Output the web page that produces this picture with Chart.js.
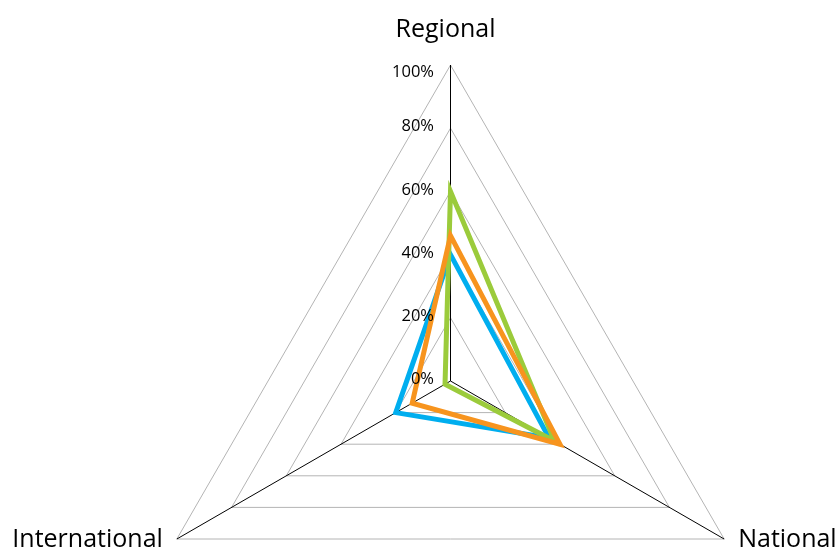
<!DOCTYPE html>
<html><head><meta charset="utf-8">
<script src="https://cdn.jsdelivr.net/npm/chart.js@4/dist/chart.umd.min.js"></script>
<style>html,body{margin:0;padding:0;background:#fff;overflow:hidden}#wrap{width:840px;height:554px}</style>
</head><body><div id="wrap"><canvas id="c" width="840" height="554"></canvas></div>
<script>
const categories = ['Regional', 'National', 'International'];
const seriesBlue = [40, 36, 20];
const seriesGreen = [60, 38, 2];
const seriesOrange = [46, 40, 14];
const tickValues = [0, 20, 40, 60, 80, 100];
const tickLabels = ['0%', '20%', '40%', '60%', '80%', '100%'];

const labelPlugin = {
  id: 'customLabels',
  afterDatasetsDraw(chart) {
    const s = chart.scales.r;
    const ctx = chart.ctx;
    ctx.save();
    ctx.fillStyle = '#000';
    ctx.font = '16.5px "Open Sans"';
    ctx.textAlign = 'right';
    ctx.textBaseline = 'middle';
    const top = s.yCenter - s.drawingArea + 7;
    s.ticks.forEach((t) => {
      const y = Math.max(s.yCenter - s.getDistanceFromCenterForValue(t.value) - 1.5, top);
      ctx.fillText(tickLabels[tickValues.indexOf(t.value)], s.xCenter - 16.5, y);
    });
    ctx.font = '25px "Open Sans"';
    ctx.textBaseline = 'alphabetic';
    const outer = s.getDistanceFromCenterForValue(s.max);
    categories.forEach((c, i) => {
      const p = s.getPointPosition(i, outer);
      if (i === 0) {
        ctx.textAlign = 'center';
        ctx.fillText(c, p.x - 5, p.y - 28);
      } else if (p.x > s.xCenter) {
        ctx.textAlign = 'left';
        ctx.fillText(c, p.x + 14, p.y + 8);
      } else {
        ctx.textAlign = 'right';
        ctx.fillText(c, p.x - 14, p.y + 8);
      }
    });
    ctx.restore();
  }
};

const mk = (data, color, order) => ({
  data, borderColor: color, backgroundColor: 'transparent', fill: false,
  borderWidth: 5, pointRadius: 0, pointHoverRadius: 0,
  borderJoinStyle: 'miter', tension: 0, order
});

new Chart(document.getElementById('c'), {
  type: 'radar',
  data: {
    labels: categories,
    datasets: [
      mk(seriesBlue, '#00AEEF', 3),
      mk(seriesGreen, '#9BCB3B', 2),
      mk(seriesOrange, '#F7941E', 1)
    ]
  },
  options: {
    responsive: false,
    animation: false,
    layout: { padding: 0 },
    plugins: { legend: { display: false }, tooltip: { enabled: false } },
    scales: {
      r: {
        min: 0, max: 100,
        ticks: { display: false, stepSize: 20 },
        afterBuildTicks: (scale) => { scale.ticks = tickValues.map(v => ({ value: v })); },
        grid: { color: '#B4B4B4', lineWidth: 1 },
        angleLines: { color: '#000000', lineWidth: 1 },
        pointLabels: { display: false },
        afterFit: (scale) => {
          scale.xCenter = 450.5;
          scale.yCenter = 381;
          scale.drawingArea = 316;
        }
      }
    }
  },
  plugins: [labelPlugin]
});
</script>
</body></html>
